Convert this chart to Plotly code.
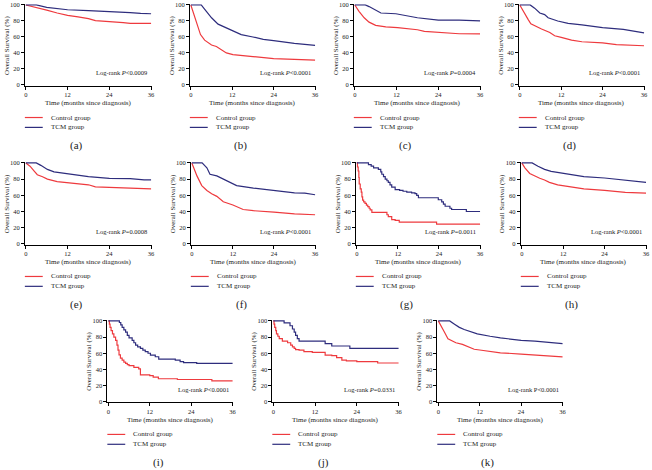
import plotly.graph_objects as go

# ---------------- data (months, overall survival %) ----------------
A_CTRL_T = [0, 3, 6, 9, 12, 15, 18, 20, 24, 28, 30, 36]
A_CTRL_S = [100, 97, 93.5, 90, 87, 85, 83, 80.5, 79.5, 78, 77, 77]
A_TCM_T = [0, 3, 6, 10, 12, 18, 24, 30, 33, 36]
A_TCM_S = [100, 100, 97, 94.5, 94, 93, 92, 90.5, 89.5, 89]

B_CTRL_T = [0, 0.7, 1.6, 2.8, 4, 5, 6, 7.4, 8.8, 10.3, 12.2, 15, 18, 24, 30, 36]
B_CTRL_S = [100, 90, 78, 63, 56, 53, 50, 48, 44.5, 40, 38, 36.5, 35.5, 33, 32, 31]
B_TCM_T = [0, 3, 4.5, 6, 7.9, 10.3, 12.2, 14.6, 18, 21, 24, 28, 30, 36]
B_TCM_S = [100, 100, 92, 84, 76, 71, 68, 63, 60, 57, 55.5, 53, 52, 49.5]

C_CTRL_T = [0, 1.2, 2.7, 4.1, 6, 8.9, 12.3, 14.7, 18, 20, 24, 30, 36]
C_CTRL_S = [100, 92, 84, 78.5, 74.5, 72.5, 71.7, 70.5, 69, 67, 65.5, 64, 63.8]
C_TCM_T = [0, 3, 4.1, 6, 7.5, 11.8, 14.7, 18, 24, 30, 36]
C_TCM_S = [100, 100, 98, 93, 90, 89, 87, 84, 81, 81, 80]

D_CTRL_T = [0, 1, 2.4, 3.2, 4.8, 6.3, 8.7, 10.1, 12, 15, 18, 24, 28, 36]
D_CTRL_S = [100, 92, 82, 76.5, 73, 70, 65.6, 61.5, 59.5, 56, 54, 52.5, 50.5, 49]
D_TCM_T = [0, 3, 4.3, 5.8, 7.2, 8.2, 11, 14, 18, 24, 30, 33, 36]
D_TCM_S = [100, 100, 96, 90, 88, 84, 80, 77, 75, 71.6, 69.6, 67, 65]

E_CTRL_T = [0, 1.2, 2.4, 3.3, 4.8, 6.2, 9, 12, 18, 20, 24, 30, 36]
E_CTRL_S = [100, 96, 90, 85.4, 83, 80, 77, 75.6, 73, 70.5, 70, 68.7, 68]
E_TCM_T = [0, 3, 4.3, 6.2, 8.1, 10.5, 12.9, 18, 24, 30, 34, 36]
E_TCM_S = [100, 100, 97, 92, 89, 87.4, 86, 83, 81, 80.5, 79, 79]

F_CTRL_T = [0, 0.5, 1.5, 2.9, 4.4, 5.8, 7.3, 9.2, 10.6, 12, 15, 18, 24, 30, 36]
F_CTRL_S = [100, 94, 84, 72, 66, 62, 58.7, 52, 50, 48, 42.5, 41, 39.3, 37, 36]
F_TCM_T = [0, 3, 4.4, 5.3, 7.3, 9.2, 11.1, 13.1, 18, 20, 24, 30, 33, 36]
F_TCM_S = [100, 100, 94, 86, 84, 80, 77, 72, 69, 68, 66, 63, 62.7, 60.7]

G_CTRL_T = [0, 0.2, 0.4, 0.6, 0.7, 1.0, 1.3, 1.5, 1.7, 2.0, 2.4, 2.8, 3.2, 3.6, 3.9, 4.4, 8.8, 9.2, 10.2, 11.2, 12.4, 23.3, 36]
G_CTRL_S = [100, 95, 90, 82, 74, 68, 64, 58, 54, 52, 50, 48, 46, 44, 42, 39, 36, 33.6, 30, 29, 27, 24.3, 24.3]
G_TCM_T = [0, 3.4, 4.2, 4.9, 6.3, 7.0, 7.3, 7.8, 8.3, 8.8, 9.2, 9.7, 10.2, 11.2, 12.5, 13.5, 14.6, 16, 17, 17.5, 18, 23.8, 24.8, 25.3, 25.8, 27.2, 27.7, 32, 36]
G_TCM_S = [100, 98, 96, 94, 92, 89, 86, 83, 80, 78, 76, 73, 70, 67, 66, 65, 64, 63, 62, 60, 57, 54.5, 52, 49, 46.5, 44, 42.5, 40, 40]

H_CTRL_T = [0, 0.9, 2.3, 3.7, 5.2, 6.6, 8, 10.4, 12, 18, 24, 30, 36]
H_CTRL_S = [100, 94, 87, 84, 81, 79, 76, 73, 72, 68, 66, 63.6, 62.8]
H_TCM_T = [0, 3, 4.7, 6.6, 8.5, 11.4, 14, 18, 24, 30, 33, 36]
H_TCM_S = [100, 100, 96, 92, 89.5, 87.4, 85.4, 83, 81.4, 79, 77.3, 76]

I_CTRL_T = [0, 0.3, 0.5, 0.8, 1.2, 1.6, 2.1, 2.5, 2.8, 3.1, 3.5, 4, 4.5, 5, 5.5, 6, 7.4, 8.8, 9.3, 12, 13, 14.5, 20, 30, 36]
I_CTRL_S = [100, 96, 92, 88, 84, 80, 76, 70, 64, 58, 54, 51.6, 49, 47.6, 46, 44.7, 42.7, 40.7, 33.3, 32.5, 30.5, 28.5, 27.6, 26, 26]
I_TCM_T = [0, 3.2, 3.6, 4, 4.5, 5, 5.5, 6, 6.9, 7.4, 7.9, 8.5, 9.3, 10, 10.7, 11.5, 12.2, 13.6, 14.6, 19.4, 20.8, 21.8, 25.6, 36]
I_TCM_S = [100, 98, 95, 92, 89, 86, 82, 79, 76, 73, 70, 68, 66, 64, 62, 60, 57.7, 55.7, 52.8, 51.6, 49.6, 48.4, 47.6, 47.6]

J_CTRL_T = [0, 0.2, 0.4, 0.7, 0.9, 1.3, 1.7, 2.6, 4.1, 5, 5.5, 6, 6.4, 7.4, 8.8, 11.2, 14.9, 16.8, 18.2, 19.7, 21, 24, 30, 36]
J_CTRL_S = [100, 96, 92, 88, 84, 81, 78, 75, 73, 70, 68, 66, 64.6, 64, 62, 61, 57.7, 57, 54.5, 51.6, 50.5, 49.6, 48, 48]
J_TCM_T = [0, 3.1, 4.8, 5.5, 6, 6.4, 6.9, 7.4, 14.9, 16.8, 22, 36]
J_TCM_S = [100, 97.6, 94, 90, 86, 82, 78, 75, 72, 69, 66, 66]

K_CTRL_T = [0, 0.9, 1.8, 2.8, 3.7, 5.1, 7, 8.5, 10.4, 12, 15, 18, 24, 30, 36]
K_CTRL_S = [100, 92, 86, 78, 76, 73, 71, 68.7, 65, 64, 62, 60.6, 59, 57.5, 55.5]
K_TCM_T = [0, 3.3, 4.7, 6.1, 7.5, 9, 11.3, 15, 18, 24, 28, 36]
K_TCM_S = [100, 100, 96, 92, 89.4, 87, 84, 81, 79, 76, 75, 72]

PANEL_LABELS = ["(a)", "(b)", "(c)", "(d)", "(e)", "(f)", "(g)", "(h)", "(i)", "(j)", "(k)"]
P_VALUES = ["<0.0009", "<0.0001", "=0.0004", "<0.0001", "=0.0008", "<0.0001",
            "=0.0011", "<0.0001", "<0.0001", "=0.0331", "<0.0001"]
X_TICKS = [0, 12, 24, 36]
Y_TICKS = [0, 20, 40, 60, 80, 100]
SERIES_NAMES = ["Control group", "TCM group"]

CURVES = [
    (A_CTRL_T, A_CTRL_S, A_TCM_T, A_TCM_S, "linear"),
    (B_CTRL_T, B_CTRL_S, B_TCM_T, B_TCM_S, "linear"),
    (C_CTRL_T, C_CTRL_S, C_TCM_T, C_TCM_S, "linear"),
    (D_CTRL_T, D_CTRL_S, D_TCM_T, D_TCM_S, "linear"),
    (E_CTRL_T, E_CTRL_S, E_TCM_T, E_TCM_S, "linear"),
    (F_CTRL_T, F_CTRL_S, F_TCM_T, F_TCM_S, "linear"),
    (G_CTRL_T, G_CTRL_S, G_TCM_T, G_TCM_S, "hv"),
    (H_CTRL_T, H_CTRL_S, H_TCM_T, H_TCM_S, "linear"),
    (I_CTRL_T, I_CTRL_S, I_TCM_T, I_TCM_S, "hv"),
    (J_CTRL_T, J_CTRL_S, J_TCM_T, J_TCM_S, "hv"),
    (K_CTRL_T, K_CTRL_S, K_TCM_T, K_TCM_S, "linear"),
]

# ---------------- layout (pixel boxes of the 0..36 x 0..100 data areas) ----------------
W, H = 652, 470
BOXES = [
    (25, 151, 2, 83), (191, 316, 2, 83), (356, 482, 2, 83), (522, 647, 2, 83),
    (25, 151, 162, 244), (192, 316, 162, 244), (358, 482, 162, 244), (524, 649, 162, 244),
    (108, 233, 322, 404), (274, 400, 322, 404), (440, 565, 322, 404),
]
RED = "#ee3a3e"
NAVY = "#2e2d7d"
SERIF = "Liberation Serif"
XPAD, YLO, YHI = 0.25, 0.8, 1.0

fig = go.Figure()
annotations = []
shapes = []

for i, (box, curves) in enumerate(zip(BOXES, CURVES)):
    x0, x1, y0, y1 = box
    ct, cs, tt, ts, shape = curves
    ppx = (x1 - x0) / 36.0
    ppy = (y1 - y0) / 100.0
    dx = [(x0 - XPAD * ppx) / W, (x1 + XPAD * ppx) / W]
    top = y0 - YHI * ppy
    bot = y1 + YLO * ppy
    dy = [1 - bot / H, 1 - top / H]
    sfx = "" if i == 0 else str(i + 1)
    xa, ya = "x" + sfx, "y" + sfx
    fig.add_trace(go.Scatter(x=ct, y=cs, mode="lines", line=dict(color=RED, width=1.2, shape=shape),
                             xaxis=xa, yaxis=ya, showlegend=False, name=SERIES_NAMES[0]))
    fig.add_trace(go.Scatter(x=tt, y=ts, mode="lines", line=dict(color=NAVY, width=1.2, shape=shape),
                             xaxis=xa, yaxis=ya, showlegend=False, name=SERIES_NAMES[1]))
    common = dict(showline=True, linecolor="black", linewidth=1, ticks="outside", ticklen=3,
                  tickwidth=1, tickcolor="black", showgrid=False, zeroline=False,
                  tickfont=dict(family=SERIF, size=6.5, color="#222"))
    fig.layout["xaxis" + sfx] = dict(domain=dx, range=[-XPAD, 36 + XPAD], tickvals=X_TICKS,
                                     anchor=ya, **common)
    fig.layout["yaxis" + sfx] = dict(domain=dy, range=[-YLO, 100 + YHI], tickvals=Y_TICKS,
                                     anchor=xa, **common)
    annotations.append(dict(x=(x0 + x1) / 2 / W, y=1 - (y1 + 18) / H, xref="paper", yref="paper",
                            text="Time (months since diagnosis)", showarrow=False,
                            font=dict(family=SERIF, size=7, color="#222"),
                            xanchor="center", yanchor="middle"))
    annotations.append(dict(x=(x0 - 19) / W, y=1 - (y0 + y1) / 2 / H, xref="paper", yref="paper",
                            text="Overall Survival (%)", showarrow=False, textangle=-90,
                            font=dict(family=SERIF, size=7, color="#222"),
                            xanchor="center", yanchor="middle"))
    ptxt = "P" if i == 10 else "<i>P</i>"
    annotations.append(dict(x=36, y=15, xref=xa, yref=ya, xshift=-2,
                            text="Log-rank " + ptxt + P_VALUES[i].replace("<", "&lt;"),
                            showarrow=False, font=dict(family=SERIF, size=6.5, color="#222"),
                            xanchor="right", yanchor="middle"))
    for k, (col, nm) in enumerate(zip([RED, NAVY], SERIES_NAMES)):
        ly = y1 + 33 + 10 * k
        shapes.append(dict(type="line", xref="paper", yref="paper",
                           x0=(x0 - 1) / W, x1=(x0 + 17) / W, y0=1 - ly / H, y1=1 - ly / H,
                           line=dict(color=col, width=1.2)))
        annotations.append(dict(x=(x0 + 23) / W, y=1 - ly / H, xref="paper", yref="paper",
                                text=nm, showarrow=False, font=dict(family=SERIF, size=7, color="#222"),
                                xanchor="left", yanchor="middle"))
    annotations.append(dict(x=(x0 - 25 + x1) / 2 / W, y=1 - (y1 + 61) / H, xref="paper", yref="paper",
                            text=PANEL_LABELS[i], showarrow=False,
                            font=dict(family=SERIF, size=11, color="#222"),
                            xanchor="center", yanchor="middle"))

fig.update_layout(width=W, height=H, margin=dict(l=0, r=0, t=0, b=0),
                  paper_bgcolor="white", plot_bgcolor="white",
                  annotations=annotations, shapes=shapes, showlegend=False)
fig.write_html("out.html", config={"displayModeBar": False},
               post_script="document.body.style.margin='0px';document.body.style.overflow='hidden';")
